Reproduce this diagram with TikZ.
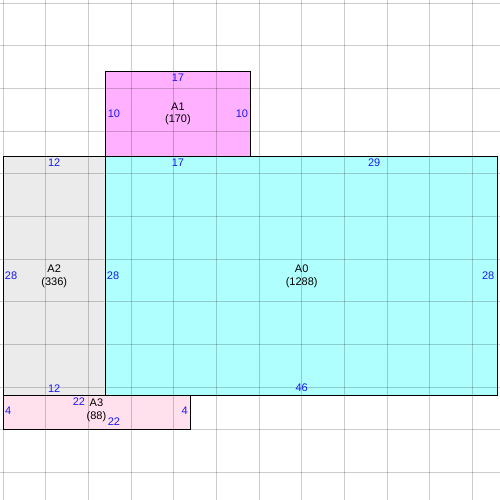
\documentclass[tikz,border=0pt]{standalone}
\usepackage{fontspec}
\setmainfont{Liberation Sans}
\definecolor{dimblue}{RGB}{25,25,245}
\definecolor{fillA0}{RGB}{176,255,255}
\definecolor{fillA1}{RGB}{255,176,255}
\definecolor{fillA2}{RGB}{235,235,235}
\definecolor{fillA3}{RGB}{255,224,236}
\begin{document}
\begin{tikzpicture}[x=8.5333pt, y=-8.5333pt,
	dim/.style={text=dimblue, font=\fontsize{11}{12}\selectfont, inner sep=0pt},
	areaname/.style={align=center, font=\fontsize{11}{12.5}\selectfont, inner sep=0pt},
	gridline/.style={black, opacity=0.2, line width=1pt}]
	\useasboundingbox (-0.3516,-0.3516) rectangle (58.242,58.242);
	\fill[white] (-0.3516,-0.3516) rectangle (58.242,58.242);

	% fills first, grid shows through
	\fill[fillA0] (12,18) rectangle (58,46);
	\fill[fillA1] (12,8) rectangle (29,18);
	\fill[fillA2] (0,18) rectangle (12,46);
	\fill[fillA3] (0,46) rectangle (22,50);
	\foreach \g in {0,5,...,55} {
		\draw[gridline] (\g,-0.3516) -- (\g,58.242);
		\draw[gridline] (-0.3516,\g) -- (58.242,\g);
	}

	\draw[line width=1pt] (12,18) rectangle (58,46);
	\draw[line width=1pt] (12,8) rectangle (29,18);
	\draw[line width=1pt] (0,18) rectangle (12,46);
	\draw[line width=1pt] (0,46) rectangle (22,50);

	% A1
	\node[areaname] (nA1) at (20.5,13) {A1\\(170)};
	\node[dim] (a1top) at (20.5,8.7) {17};
	\node[dim] (a1left) at (13.0,13) {10};
	\node[dim] (a1right) at (28.0,13) {10};

	% A0
	\node[areaname] (nA0) at (35,32) {A0\\(1288)};
	\node[dim] (a0topa) at (20.5,18.75) {17};
	\node[dim] (a0topb) at (43.5,18.75) {29};
	\node[dim] (a0left) at (12.9,32) {28};
	\node[dim] (a0right) at (56.85,32) {28};
	\node[dim] (a0bot) at (35,45.1) {46};

	% A2
	\node[areaname] (nA2) at (6,32) {A2\\(336)};
	\node[dim] (a2top) at (6,18.75) {12};
	\node[dim] (a2left) at (0.95,32) {28};
	\node[dim] (a2bot) at (6,45.2) {12};

	% A3
	\node[areaname] (nA3) at (10.95,47.75) {A3\\(88)};
	\node[dim] (a3top) at (8.9,46.75) {22};
	\node[dim] (a3bot) at (13.0,49.1) {22};
	\node[dim] (a3left) at (0.6,47.8) {4};
	\node[dim] (a3right) at (21.3,47.8) {4};
\end{tikzpicture}
\end{document}
